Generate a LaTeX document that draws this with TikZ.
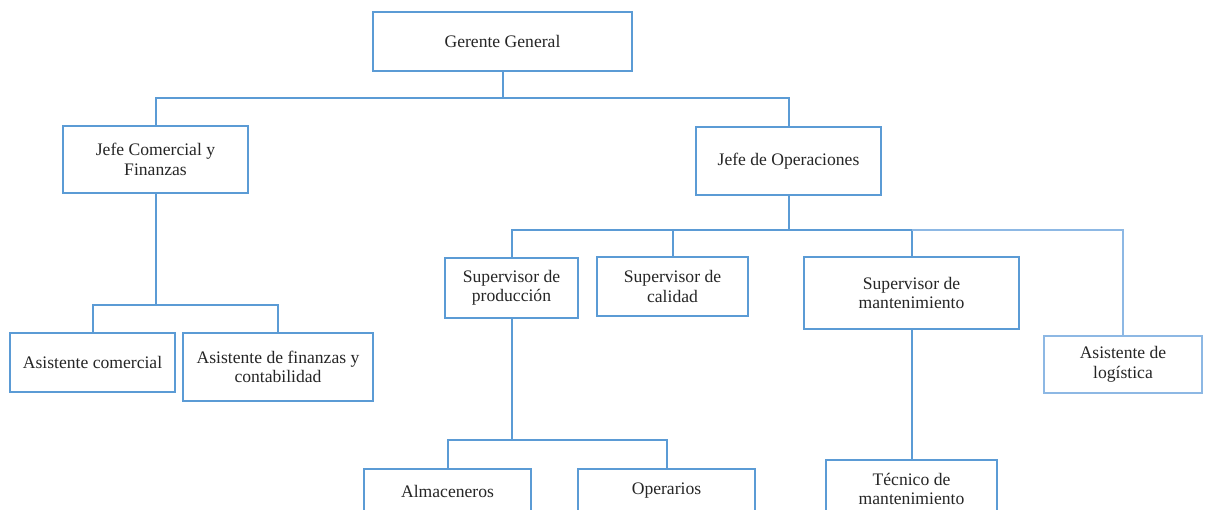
\documentclass[tikz,border=0pt]{standalone}
\usepackage{fontspec}
\setmainfont{Liberation Serif}
\definecolor{boxblue}{HTML}{5B9BD5}
\definecolor{lightblue}{HTML}{8DB8E4}
\begin{document}
\begin{tikzpicture}[x=0.75pt,y=-0.75pt,
  wh/.style 2 args={minimum width=#1*0.75pt, minimum height=#2*0.75pt},
  post/.style={draw=boxblue, line width=1.5pt, fill=white, align=center,
    inner sep=0pt, font=\fontsize{13.2}{14.6}\selectfont, text=black!85},
  postlight/.style={post, draw=lightblue, line width=1pt},
  link/.style={draw=boxblue, line width=1.5pt},
  linklight/.style={draw=lightblue, line width=1pt}]
\useasboundingbox (0,0) rectangle (1208,510);
\clip (0,0) rectangle (1208,510);
\fill[white] (0,0) rectangle (1208,510);

% top level
\node[post, wh={259}{59}] (gg) at (502.5,41.5) {Gerente General};

% second level
\node[post, wh={185}{67}] (jc) at (155.5,159.5) {Jefe Comercial y\\Finanzas};
\node[post, wh={185}{68}] (jo) at (788.5,161) {Jefe de Operaciones};

% commercial branch
\node[post, wh={165}{59}] (ac) at (92.5,362.5) {Asistente comercial};
\node[post, wh={190}{68}] (af) at (278,367) {Asistente de finanzas y\\contabilidad};

% operations branch
\node[post, wh={133}{60}] (sp) at (511.5,288) {Supervisor de\\producción};
\node[post, wh={151}{59}] (sc) at (672.5,286.5) {Supervisor de\\calidad};
\node[post, wh={215}{72}] (sm) at (911.5,293) {Supervisor de\\mantenimiento};
\node[postlight, wh={158}{57}] (al) at (1123,364.5) {Asistente de\\logística};

% lowest level (runs past the lower edge)
\node[post, wh={167}{44}] (am) at (447.5,491) {Almaceneros};
\node[post, wh={177}{44}] (op) at (666.5,491) {Operarios};
\node[post, wh={171}{58}] (tm) at (911.5,489) {Técnico de\\mantenimiento};

% bus junctions
\coordinate (b1) at (502.5,98);
\coordinate (b2) at (788.5,230);
\coordinate (b3) at (155.5,305);
\coordinate (b4) at (511.5,440);

% connectors
\draw[link] (gg.south) -- (b1) -| (jc.north);
\draw[link] (b1) -| (jo.north);
\draw[link] (jc.south) -- (b3) -| (ac.north);
\draw[link] (b3) -| (af.north);
\draw[link] (jo.south) -- (b2) -| (sp.north);
\draw[link] (b2) -| (sc.north);
\draw[link] (b2) -| (sm.north);
\draw[linklight] (sm.north |- b2) -| (al.north);
\draw[link] (sp.south) -- (b4) -| (am.north);
\draw[link] (b4) -| (op.north);
\draw[link] (sm.south) -- (tm.north);
\end{tikzpicture}
\end{document}
